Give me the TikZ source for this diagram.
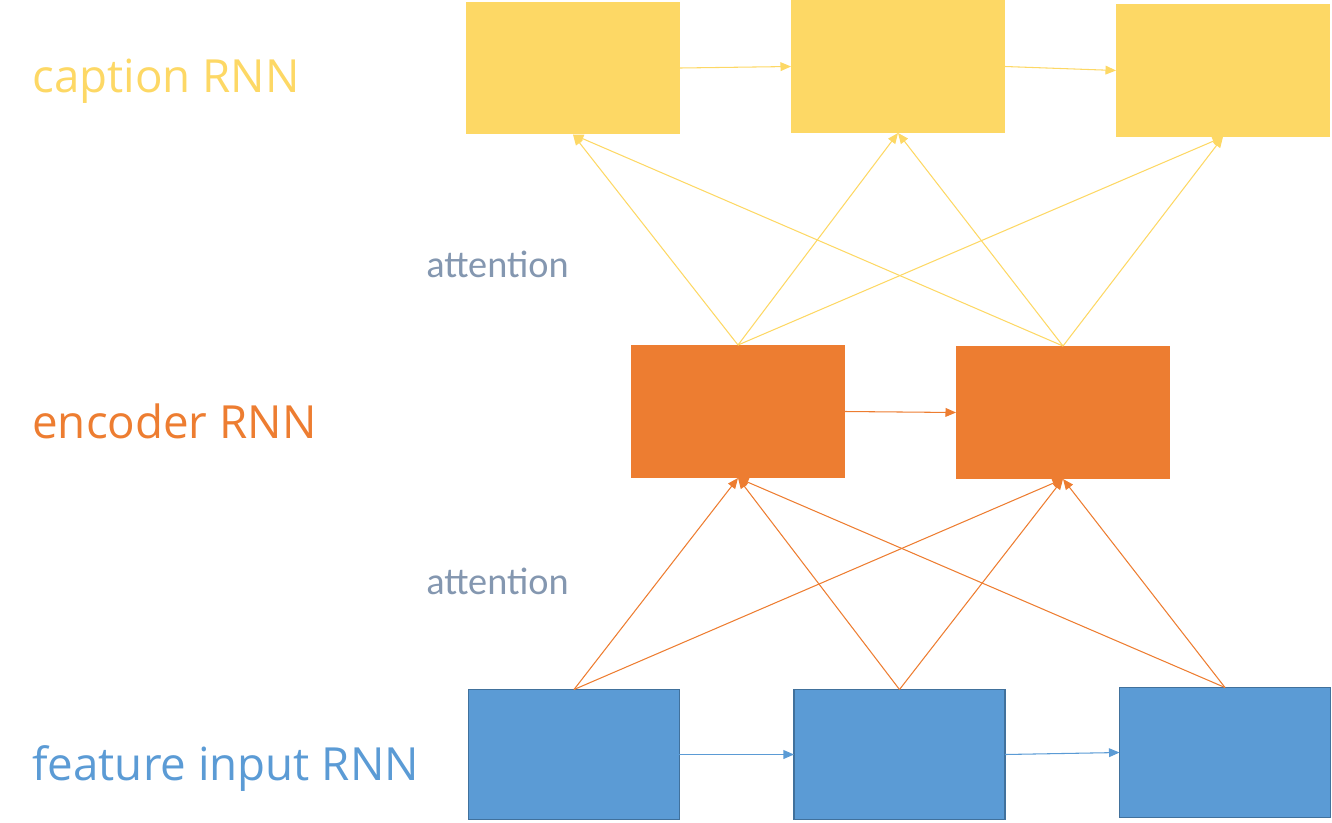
\documentclass[tikz,border=0pt]{standalone}
\usepackage{fontspec}
\setmainfont{Open Sans}
\newfontfamily\attfont{Carlito}
\usetikzlibrary{arrows.meta}

\definecolor{capyellow}{HTML}{FDD865}
\definecolor{encorange}{HTML}{ED7D31}
\definecolor{featblue}{HTML}{5B9BD5}
\definecolor{featedge}{HTML}{41719C}
\definecolor{attgray}{HTML}{8497B0}

\tikzset{
  capbox/.style={fill=capyellow, inner sep=0, outer sep=0, minimum width=4.28cm, minimum height=2.66cm},
  encbox/.style={fill=encorange, inner sep=0, outer sep=0, minimum width=4.28cm, minimum height=2.66cm},
  featbox/.style={fill=featblue, draw=featedge, line width=1pt, inner sep=0, outer sep=0, minimum width=4.22cm, minimum height=2.6cm},
  rowlabel/.style={anchor=base west, inner sep=0, font=\fontsize{26}{30}\selectfont},
  attlabel/.style={anchor=base west, inner sep=0, text=attgray, font=\attfont\fontsize{21.8}{25}\selectfont},
  link/.style={line width=0.6pt, -{Triangle[length=6pt,width=5pt]}}
}

\begin{document}
\begin{tikzpicture}[x=0.02cm,y=-0.02cm]
\useasboundingbox (0,0) rectangle (1332,822);

% boxes
\node[capbox] (c1) at (573,68) {};
\node[capbox] (c2) at (898,66.5) {};
\node[capbox] (c3) at (1223,70.5) {};

\node[encbox] (e1) at (738,411.5) {};
\node[encbox] (e2) at (1063,412.5) {};

\node[featbox] (f1) at (574,754.5) {};
\node[featbox] (f2) at (899.5,754.5) {};
\node[featbox] (f3) at (1225,752.5) {};

% labels
\node[rowlabel, text=capyellow] (lcap) at (32,92) {caption RNN};
\node[rowlabel, text=encorange] (lenc) at (32,438) {encoder RNN};
\node[rowlabel, text=featblue] (lfeat) at (32,780) {feature input RNN};
\node[attlabel] (att1) at (426,277) {attention};
\node[attlabel] (att2) at (426,594) {attention};

% recurrent links
\draw[link, capyellow] (c1.east) -- (c2.west);
\draw[link, capyellow] (c2.east) -- (c3.west);
\draw[link, encorange] (e1.east) -- (e2.west);
\draw[link, featblue] (f1.east) -- (f2.west);
\draw[link, featblue] (f2.east) -- (f3.west);

% attention
\foreach \s in {e1,e2}
  \foreach \t in {c1,c2,c3}
    \draw[link, capyellow] (\s.north) -- (\t.south);

\foreach \s in {f1,f2,f3}
  \foreach \t in {e1,e2}
    \draw[link, encorange] (\s.north) -- (\t.south);

\end{tikzpicture}
\end{document}
